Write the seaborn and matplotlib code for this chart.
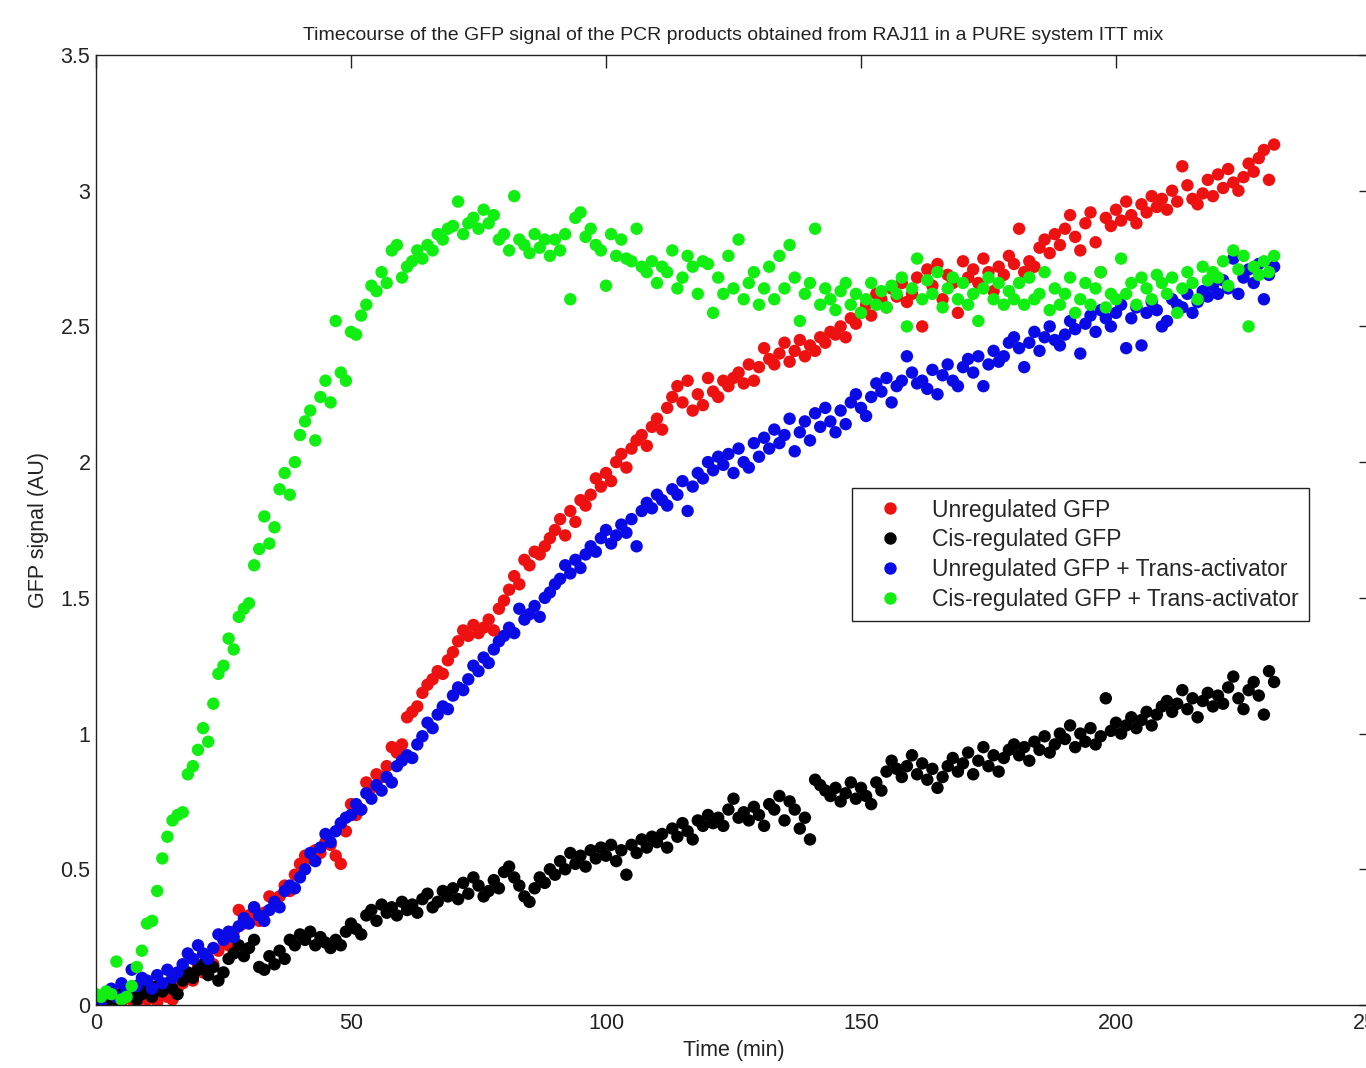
import numpy as np
import pandas as pd
import seaborn as sns
import matplotlib
matplotlib.use("Agg")
import matplotlib.pyplot as plt

# one reading per minute, 0..231 min
time_min = np.arange(0, 232)

unregulated = [
    0.02, 0.03, 0.01, 0.02, 0.04, 0.01, 0.03, 0.02, 0.00, 0.03,
    0.02, 0.04, 0.01, 0.05, 0.03, 0.02, 0.06, 0.08, 0.11, 0.09,
    0.14, 0.12, 0.17, 0.15, 0.20, 0.24, 0.22, 0.27, 0.35, 0.30,
    0.33, 0.36, 0.31, 0.34, 0.40, 0.38, 0.40, 0.44, 0.42, 0.48,
    0.52, 0.55, 0.54, 0.57, 0.56, 0.60, 0.59, 0.55, 0.52, 0.64,
    0.74, 0.70, 0.72, 0.82, 0.80, 0.85, 0.84, 0.88, 0.95, 0.93,
    0.96, 1.06, 1.08, 1.10, 1.15, 1.18, 1.20, 1.23, 1.22, 1.27,
    1.30, 1.34, 1.38, 1.36, 1.40, 1.37, 1.39, 1.42, 1.38, 1.46,
    1.49, 1.53, 1.58, 1.55, 1.64, 1.62, 1.67, 1.66, 1.69, 1.72,
    1.75, 1.79, 1.73, 1.82, 1.78, 1.86, 1.84, 1.88, 1.94, 1.91,
    1.96, 1.93, 2.00, 2.03, 1.98, 2.05, 2.08, 2.10, 2.06, 2.13,
    2.16, 2.12, 2.20, 2.24, 2.28, 2.22, 2.30, 2.19, 2.25, 2.21,
    2.31, 2.26, 2.24, 2.30, 2.28, 2.31, 2.33, 2.29, 2.36, 2.30,
    2.35, 2.42, 2.38, 2.36, 2.40, 2.44, 2.37, 2.41, 2.45, 2.39,
    2.43, 2.41, 2.46, 2.44, 2.48, 2.47, 2.50, 2.46, 2.53, 2.51,
    2.55, 2.58, 2.54, 2.62, 2.60, 2.57, 2.64, 2.61, 2.66, 2.59,
    2.62, 2.68, 2.50, 2.71, 2.65, 2.73, 2.60, 2.69, 2.66, 2.55,
    2.74, 2.68, 2.71, 2.66, 2.75, 2.70, 2.63, 2.72, 2.69, 2.76,
    2.73, 2.86, 2.70, 2.74, 2.72, 2.79, 2.82, 2.77, 2.84, 2.80,
    2.86, 2.91, 2.83, 2.78, 2.88, 2.92, 2.81, 2.70, 2.90, 2.87,
    2.93, 2.89, 2.96, 2.91, 2.88, 2.95, 2.92, 2.98, 2.94, 2.97,
    2.93, 3.00, 2.96, 3.09, 3.02, 2.97, 2.95, 2.99, 3.04, 2.98,
    3.06, 3.01, 3.08, 3.03, 3.00, 3.05, 3.10, 3.07, 3.12, 3.15,
    3.04, 3.17,
]

cis_regulated = [
    0.01, 0.02, 0.00, 0.03, 0.02, 0.04, 0.03, 0.05, 0.02, 0.04,
    0.06, 0.03, 0.07, 0.05, 0.08, 0.06, 0.04, 0.09, 0.12, 0.10,
    0.13, 0.15, 0.11, 0.14, 0.09, 0.12, 0.17, 0.19, 0.22, 0.18,
    0.21, 0.24, 0.14, 0.13, 0.18, 0.15, 0.20, 0.17, 0.24, 0.22,
    0.26, 0.24, 0.27, 0.22, 0.25, 0.23, 0.21, 0.24, 0.22, 0.27,
    0.30, 0.28, 0.26, 0.33, 0.35, 0.31, 0.37, 0.34, 0.36, 0.33,
    0.38, 0.35, 0.37, 0.34, 0.39, 0.41, 0.36, 0.38, 0.42, 0.40,
    0.43, 0.39, 0.45, 0.41, 0.47, 0.44, 0.40, 0.42, 0.46, 0.43,
    0.49, 0.51, 0.47, 0.44, 0.40, 0.38, 0.43, 0.47, 0.45, 0.50,
    0.48, 0.53, 0.50, 0.56, 0.52, 0.55, 0.51, 0.57, 0.54, 0.58,
    0.55, 0.59, 0.53, 0.57, 0.48, 0.59, 0.56, 0.61, 0.58, 0.62,
    0.60, 0.63, 0.58, 0.65, 0.62, 0.67, 0.64, 0.61, 0.68, 0.66,
    0.70, 0.67, 0.69, 0.66, 0.72, 0.76, 0.69, 0.71, 0.68, 0.73,
    0.70, 0.66, 0.74, 0.72, 0.77, 0.68, 0.75, 0.72, 0.65, 0.69,
    0.61, 0.83, 0.81, 0.79, 0.77, 0.80, 0.75, 0.78, 0.82, 0.76,
    0.80, 0.77, 0.74, 0.82, 0.79, 0.86, 0.90, 0.87, 0.84, 0.88,
    0.92, 0.85, 0.89, 0.83, 0.87, 0.80, 0.84, 0.88, 0.91, 0.86,
    0.89, 0.93, 0.85, 0.90, 0.95, 0.88, 0.92, 0.86, 0.91, 0.94,
    0.96, 0.92, 0.95, 0.90, 0.97, 0.94, 0.99, 0.93, 0.96, 1.00,
    0.98, 1.03, 0.95, 1.00, 0.97, 1.02, 0.96, 0.99, 1.13, 1.01,
    1.04, 1.00, 1.03, 1.06, 1.02, 1.05, 1.08, 1.03, 1.07, 1.10,
    1.12, 1.08, 1.11, 1.16, 1.09, 1.13, 1.06, 1.12, 1.15, 1.10,
    1.14, 1.11, 1.17, 1.21, 1.13, 1.09, 1.16, 1.19, 1.14, 1.07,
    1.23, 1.19,
]

unregulated_ta = [
    0.02, 0.00, 0.04, 0.06, 0.03, 0.08, 0.05, 0.13, 0.07, 0.10,
    0.09, 0.06, 0.11, 0.08, 0.13, 0.10, 0.12, 0.15, 0.19, 0.17,
    0.22, 0.19, 0.17, 0.21, 0.26, 0.24, 0.27, 0.25, 0.29, 0.32,
    0.30, 0.36, 0.33, 0.31, 0.35, 0.38, 0.36, 0.42, 0.44, 0.43,
    0.47, 0.50, 0.56, 0.53, 0.58, 0.63, 0.60, 0.64, 0.67, 0.69,
    0.70, 0.74, 0.72, 0.78, 0.76, 0.81, 0.79, 0.84, 0.82, 0.88,
    0.90, 0.92, 0.91, 0.96, 0.99, 1.04, 1.02, 1.07, 1.10, 1.09,
    1.14, 1.17, 1.16, 1.20, 1.25, 1.23, 1.28, 1.26, 1.31, 1.34,
    1.36, 1.39, 1.37, 1.46, 1.42, 1.44, 1.47, 1.43, 1.50, 1.52,
    1.55, 1.57, 1.62, 1.59, 1.64, 1.61, 1.66, 1.69, 1.67, 1.72,
    1.75, 1.70, 1.73, 1.77, 1.74, 1.79, 1.69, 1.82, 1.85, 1.83,
    1.88, 1.86, 1.84, 1.90, 1.88, 1.93, 1.82, 1.91, 1.96, 1.94,
    2.00, 1.97, 2.02, 1.99, 2.03, 1.96, 2.05, 2.00, 1.98, 2.07,
    2.02, 2.09, 2.05, 2.12, 2.07, 2.10, 2.16, 2.04, 2.11, 2.15,
    2.08, 2.18, 2.13, 2.20, 2.15, 2.11, 2.19, 2.14, 2.22, 2.25,
    2.20, 2.17, 2.24, 2.29, 2.26, 2.31, 2.22, 2.28, 2.30, 2.39,
    2.33, 2.29, 2.30, 2.27, 2.34, 2.25, 2.32, 2.36, 2.30, 2.28,
    2.35, 2.38, 2.33, 2.39, 2.28, 2.36, 2.41, 2.37, 2.39, 2.44,
    2.46, 2.42, 2.35, 2.44, 2.48, 2.41, 2.46, 2.50, 2.45, 2.43,
    2.47, 2.52, 2.49, 2.40, 2.51, 2.54, 2.48, 2.56, 2.53, 2.50,
    2.55, 2.58, 2.42, 2.53, 2.57, 2.43, 2.55, 2.59, 2.56, 2.50,
    2.52, 2.60, 2.58, 2.57, 2.62, 2.55, 2.59, 2.63, 2.61, 2.65,
    2.62, 2.67, 2.64, 2.75, 2.62, 2.68, 2.71, 2.66, 2.73, 2.60,
    2.69, 2.72,
]

cis_regulated_ta = [
    0.04, 0.03, 0.05, 0.04, 0.16, 0.02, 0.03, 0.07, 0.14, 0.20,
    0.30, 0.31, 0.42, 0.54, 0.62, 0.68, 0.70, 0.71, 0.85, 0.88,
    0.94, 1.02, 0.97, 1.11, 1.22, 1.25, 1.35, 1.31, 1.43, 1.46,
    1.48, 1.62, 1.68, 1.80, 1.70, 1.76, 1.90, 1.96, 1.88, 2.00,
    2.10, 2.15, 2.19, 2.08, 2.24, 2.30, 2.22, 2.52, 2.33, 2.30,
    2.48, 2.47, 2.54, 2.58, 2.65, 2.63, 2.70, 2.66, 2.78, 2.80,
    2.68, 2.72, 2.74, 2.78, 2.75, 2.80, 2.78, 2.84, 2.82, 2.86,
    2.87, 2.96, 2.84, 2.88, 2.90, 2.86, 2.93, 2.88, 2.91, 2.82,
    2.84, 2.78, 2.98, 2.82, 2.80, 2.77, 2.84, 2.79, 2.82, 2.76,
    2.82, 2.78, 2.84, 2.60, 2.90, 2.92, 2.83, 2.86, 2.80, 2.78,
    2.65, 2.84, 2.76, 2.82, 2.75, 2.74, 2.86, 2.72, 2.70, 2.74,
    2.66, 2.72, 2.70, 2.78, 2.64, 2.68, 2.76, 2.72, 2.62, 2.74,
    2.73, 2.55, 2.68, 2.62, 2.76, 2.64, 2.82, 2.60, 2.66, 2.70,
    2.58, 2.64, 2.72, 2.60, 2.76, 2.64, 2.80, 2.68, 2.52, 2.62,
    2.66, 2.86, 2.58, 2.64, 2.60, 2.56, 2.63, 2.66, 2.58, 2.62,
    2.55, 2.60, 2.66, 2.58, 2.63, 2.57, 2.65, 2.62, 2.68, 2.50,
    2.64, 2.75, 2.60, 2.67, 2.62, 2.70, 2.57, 2.64, 2.68, 2.60,
    2.66, 2.58, 2.62, 2.52, 2.64, 2.68, 2.60, 2.66, 2.58, 2.63,
    2.60, 2.66, 2.58, 2.68, 2.60, 2.62, 2.70, 2.56, 2.64, 2.58,
    2.62, 2.68, 2.55, 2.60, 2.66, 2.58, 2.64, 2.70, 2.57, 2.62,
    2.60, 2.75, 2.62, 2.66, 2.58, 2.68, 2.64, 2.60, 2.69, 2.66,
    2.62, 2.68, 2.55, 2.64, 2.70, 2.66, 2.60, 2.72, 2.67, 2.70,
    2.68, 2.74, 2.65, 2.78, 2.71, 2.76, 2.50, 2.72, 2.69, 2.74,
    2.70, 2.76,
]

labels = ["Unregulated GFP", "Cis-regulated GFP",
          "Unregulated GFP + Trans-activator", "Cis-regulated GFP + Trans-activator"]
colors = ["#ee1111", "#000000", "#0a0ae6", "#11ee11"]
series = [unregulated, cis_regulated, unregulated_ta, cis_regulated_ta]

xticks = [0, 50, 100, 150, 200, 250]
xticklabels = ["0", "50", "100", "150", "200", "250"]
yticks = [0, 0.5, 1, 1.5, 2, 2.5, 3, 3.5]
yticklabels = ["0", "0.5", "1", "1.5", "2", "2.5", "3", "3.5"]

df = pd.concat([pd.DataFrame({"time": time_min, "signal": vals, "sample": lab})
                for lab, vals in zip(labels, series)], ignore_index=True)

sns.set_style("white")
plt.rcParams["font.family"] = ["Liberation Sans", "DejaVu Sans"]

fig = plt.figure(figsize=(13.66, 10.68), dpi=100)
# axes run a little past the right edge, as in the original crop
ax = fig.add_axes([96 / 1366, 63 / 1068, 1275 / 1366, 950 / 1068])

sns.scatterplot(data=df, x="time", y="signal", hue="sample", hue_order=labels,
                palette=colors, s=80, linewidth=0, ax=ax)

ax.set_xlim(0, 250)
ax.set_ylim(0, 3.5)
ax.set_xticks(xticks)
ax.set_xticklabels(xticklabels)
ax.set_yticks(yticks)
ax.set_yticklabels(yticklabels)
ax.tick_params(direction="in", length=9, width=1, top=True, right=True,
               labelsize=15.5, labelcolor="#222222", color="#222222")
ax.tick_params(axis="x", pad=6)
ax.tick_params(axis="y", pad=4)
for sp in ax.spines.values():
    sp.set_color("#222222")
    sp.set_linewidth(1)

ax.set_xlabel("Time (min)", fontsize=15.5, color="#222222", labelpad=4)
ax.set_ylabel("GFP signal (AU)", fontsize=15.5, color="#222222", labelpad=8)
ax.set_title("Timecourse of the GFP signal of the PCR products obtained from RAJ11 "
             "in a PURE system ITT mix", fontsize=14, color="#222222", pad=11)

sns.move_legend(ax, "upper left", bbox_to_anchor=(0.593, 0.544), borderaxespad=0,
                title=None, frameon=True, fancybox=False, edgecolor="#222222",
                framealpha=1, fontsize=16.5, borderpad=0.45, labelspacing=0.3,
                handlelength=2.4, handletextpad=0.64)
ax.get_legend().get_frame().set_linewidth(1)

fig.savefig("out.png", dpi=100)
